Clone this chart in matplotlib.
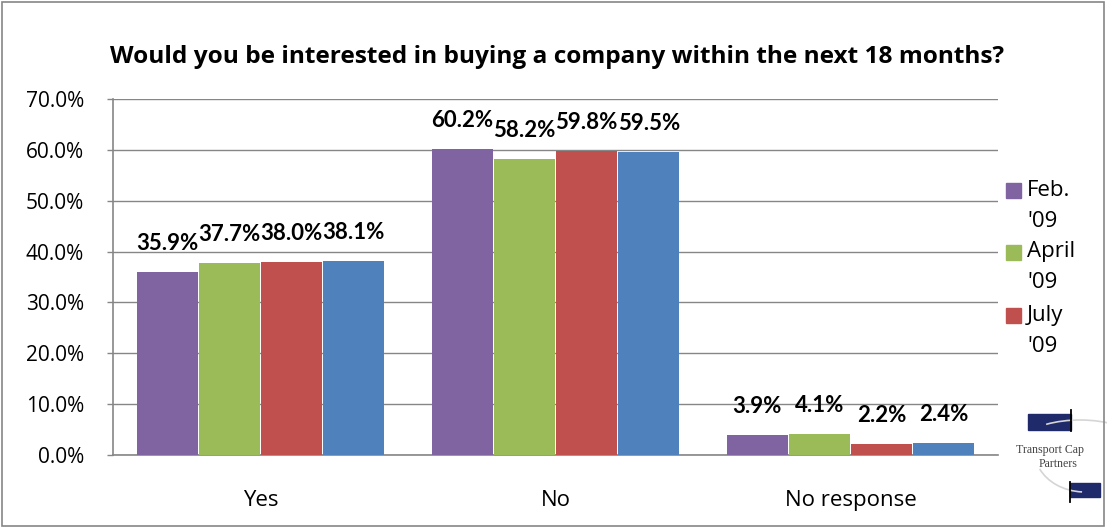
import matplotlib
matplotlib.use("Agg")
import matplotlib.pyplot as plt
from matplotlib.patches import Rectangle, Arc
import numpy as np

categories = ["Yes", "No", "No response"]
series_names = ["Feb.\n'09", "April\n'09", "July\n'09", "Oct.\n'09"]
feb_09 = [35.9, 60.2, 3.9]
apr_09 = [37.7, 58.2, 4.1]
jul_09 = [38.0, 59.8, 2.2]
oct_09 = [38.1, 59.5, 2.4]
series_values = [feb_09, apr_09, jul_09, oct_09]
colors = ["#8064A2", "#9BBB59", "#C0504D", "#4F81BD"]
y_ticks = [0, 10, 20, 30, 40, 50, 60, 70]

plt.rcParams['font.family'] = ['Open Sans', 'DejaVu Sans']

W, H = 1107, 527
fig = plt.figure(figsize=(W / 100, H / 100), dpi=100)
fig.patch.set_facecolor("white")

ax = fig.add_axes([113 / W, 1 - 455 / H, (998 - 113) / W, (455 - 99) / H])

x = np.arange(len(categories))
bar_w = 0.211
n = len(series_values)
for i, (vals, col) in enumerate(zip(series_values, colors)):
    offs = (i - (n - 1) / 2) * bar_w
    bars = ax.bar(x + offs, vals, width=bar_w - 0.004, color=col, zorder=3)
    for b, v in zip(bars, vals):
        ax.text(b.get_x() + b.get_width() / 2, v + 5.6, f"{v:.1f}%",
                ha="center", va="center", fontsize=16, fontweight="bold",
                family=["Lato"], color="black", zorder=4)

ax.set_xlim(-0.5, 2.5)
ax.set_ylim(0, 70)
ax.set_yticks(y_ticks)
ax.set_yticklabels([f"{t:.1f}%" for t in y_ticks], fontsize=15)
ax.set_xticks(x)
ax.set_xticklabels(categories, fontsize=16)
ax.tick_params(axis="x", length=0, pad=25)
ax.tick_params(axis="y", length=4, width=1, color="#868686", pad=17, direction="out")
ax.yaxis.grid(True, color="#868686", linewidth=1, zorder=0)
for s in ["top", "right"]:
    ax.spines[s].set_visible(False)
for s in ["left", "bottom"]:
    ax.spines[s].set_color("#868686")
    ax.spines[s].set_linewidth(1.2)

fig.text(557 / W, 1 - 57 / H,
         "Would you be interested in buying a company within the next 18 months?",
         ha="center", va="center", fontsize=17.6, fontweight="bold")

# legend (first three series fit in the visible area)
leg_y = [190, 252, 315]
for name, col, yy in zip(series_names[:3], colors[:3], leg_y):
    fig.patches.append(Rectangle((1006 / W, 1 - (yy + 8) / H), 15 / W, 15 / H,
                                 transform=fig.transFigure, color=col))
    first, second = name.split("\n")
    fig.text(1027 / W, 1 - yy / H, first, ha="left", va="center", fontsize=16)
    fig.text(1027 / W, 1 - (yy + 31) / H, second, ha="left", va="center", fontsize=16)

# company logo in the corner
navy = "#1F2A6B"
fig.add_artist(Arc((1080 / W, 1 - 445 / H), 120 / W, 50 / H, theta1=50, theta2=128,
                   transform=fig.transFigure, color="#D5D5D5", lw=1.2))
fig.add_artist(Arc((1085 / W, 1 - 452 / H), 100 / W, 80 / H, theta1=218, theta2=268,
                   transform=fig.transFigure, color="#D5D5D5", lw=1.2))
fig.patches.append(Rectangle((1028 / W, 1 - 430 / H), 43 / W, 16 / H,
                             transform=fig.transFigure, color=navy, zorder=0))
fig.add_artist(plt.Line2D([1071 / W, 1071 / W], [1 - 431 / H, 1 - 410 / H],
                          transform=fig.transFigure, color="black", lw=1.3))
fig.text(1016 / W, 1 - 450 / H, "Transport Cap", fontsize=8.6,
         family=["Liberation Serif"], color="#444444", va="center", ha="left")
fig.text(1039 / W, 1 - 464 / H, "Partners", fontsize=8.6,
         family=["Liberation Serif"], color="#444444", va="center", ha="left")
fig.patches.append(Rectangle((1070 / W, 1 - 497 / H), 30 / W, 14 / H,
                             transform=fig.transFigure, color=navy, zorder=0))
fig.add_artist(plt.Line2D([1070 / W, 1070 / W], [1 - 502 / H, 1 - 482 / H],
                          transform=fig.transFigure, color="black", lw=1.3))

# outer frame
fig.patches.append(Rectangle((2 / W, 1 / H), (W - 5) / W, (H - 3) / H,
                             transform=fig.transFigure, fill=False,
                             edgecolor="#868686", linewidth=1.2))

fig.savefig("out.png", dpi=100)
